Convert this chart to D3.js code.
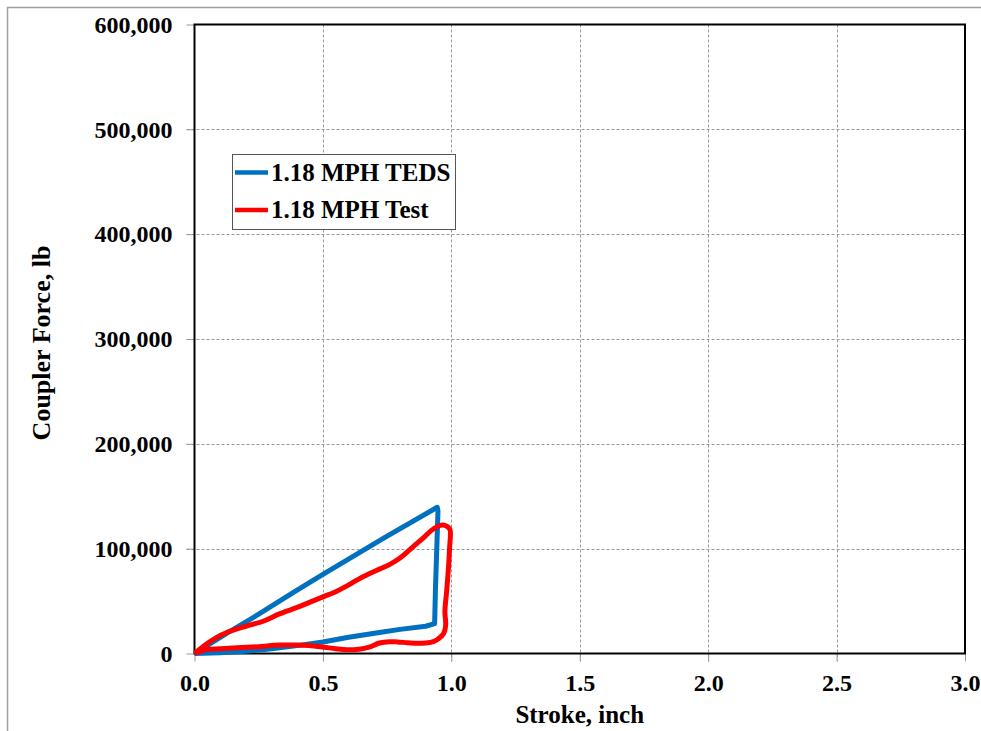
<!DOCTYPE html>
<html>
<head>
<meta charset="utf-8">
<script src="https://cdn.jsdelivr.net/npm/d3@7"></script>
<style>
  html, body { margin: 0; padding: 0; background: #fff; }
  svg { display: block; }
  text { font-family: "Liberation Serif", "Times New Roman", serif; font-weight: bold; fill: #000; }
</style>
</head>
<body>
<svg id="chart" width="981" height="731"></svg>
<script>
// ---- data ----
const xTicks = [0, 0.5, 1.0, 1.5, 2.0, 2.5, 3.0];
const yTicks = [0, 100000, 200000, 300000, 400000, 500000, 600000];
const seriesNames = ["1.18 MPH TEDS", "1.18 MPH Test"];
const seriesColors = ["#0070C0", "#FF0000"];

// stroke (inch), force (lb) — TEDS loop
const tedsStroke = [0, 0.13, 0.25, 0.39, 0.5, 0.74, 0.945, 0.948, 0.942, 0.938, 0.935, 0.9, 0.8, 0.72, 0.6, 0.5, 0.4, 0.3, 0.2, 0.1, 0];
const tedsForce  = [0, 20000, 37500, 59000, 75500, 110500, 139500, 136000, 90000, 60000, 28500, 26000, 23000, 20000, 15500, 11000, 7500, 4500, 2200, 700, 0];

// Test loop
const testStroke = [0, 0.035, 0.08, 0.13, 0.2, 0.27, 0.333, 0.4, 0.45, 0.5, 0.546, 0.59, 0.632, 0.68, 0.72, 0.761, 0.8, 0.852, 0.89, 0.92, 0.945, 0.965, 0.985, 0.995, 0.993, 0.99, 0.982, 0.975, 0.978, 0.97, 0.95, 0.93, 0.9, 0.87, 0.83, 0.79, 0.76, 0.72, 0.68, 0.64, 0.593, 0.55, 0.49, 0.4, 0.33, 0.25, 0.2, 0.1, 0.05, 0.01, 0];
const testForce  = [0, 7000, 14500, 20500, 26000, 31000, 38000, 44000, 49000, 54000, 58500, 64000, 70000, 76000, 80500, 85000, 91000, 102000, 110000, 117000, 121000, 122500, 121000, 118000, 100000, 86000, 60000, 40000, 27000, 19000, 14000, 11300, 10000, 9700, 10300, 11000, 11300, 10000, 6000, 4000, 3500, 4500, 6500, 8000, 8000, 6500, 6000, 4500, 4000, 1000, 0];

// ---- layout ----
const svg = d3.select("#chart");
const L = 194.5, R = 965, T = 24.5, B = 653.5;
const x = d3.scaleLinear().domain([0, 3]).range([L, R]);
const y = d3.scaleLinear().domain([0, 600000]).range([B, T]);

// outer frame
svg.append("rect").attr("x", 7.5).attr("y", 7.5).attr("width", 1000).attr("height", 1000)
  .attr("fill", "none").attr("stroke", "#a0a0a0").attr("stroke-width", 1.5);

// gridlines
const grid = svg.append("g");
grid.selectAll(".gx").data(xTicks.slice(1, -1)).join("line")
  .attr("x1", d => Math.round(x(d)) + 0.5).attr("x2", d => Math.round(x(d)) + 0.5)
  .attr("y1", T).attr("y2", B + 8)
  .attr("stroke", "#9a9a9a").attr("stroke-width", 1).attr("stroke-dasharray", "3,2");
grid.selectAll(".gy").data(yTicks.slice(1, -1)).join("line")
  .attr("y1", d => Math.round(y(d)) + 0.5).attr("y2", d => Math.round(y(d)) + 0.5)
  .attr("x1", L - 8).attr("x2", R)
  .attr("stroke", "#9a9a9a").attr("stroke-width", 1).attr("stroke-dasharray", "3,2");

// axes
const fmt = d3.format(",");
const xAxis = d3.axisBottom(x).tickValues(xTicks).tickFormat(d3.format(".1f")).tickSize(8).tickPadding(12);
const yAxis = d3.axisLeft(y).tickValues(yTicks).tickFormat(fmt).tickSize(8).tickPadding(14);
const gx = svg.append("g").attr("transform", `translate(0,${B})`).call(xAxis);
const gy = svg.append("g").attr("transform", `translate(${L},0)`).call(yAxis);
[gx, gy].forEach(g => {
  g.select(".domain").remove();
  g.selectAll(".tick line").attr("stroke", "#9a9a9a");
  g.selectAll(".tick text").style("font-family", '"Liberation Serif", serif')
    .style("font-weight", "bold").style("font-size", "24px").attr("fill", "#000");
});

// plot frame
svg.append("rect").attr("x", L).attr("y", T).attr("width", R - L).attr("height", B - T)
  .attr("fill", "none").attr("stroke", "#000").attr("stroke-width", 2);

// series
const line = d3.line().x(d => x(d[0])).y(d => y(d[1]));
const tedsData = tedsStroke.map((s, i) => [s, tedsForce[i]]);
const testData = testStroke.map((s, i) => [s, testForce[i]]);
svg.append("path").attr("d", line.curve(d3.curveLinear)(tedsData))
  .attr("fill", "none").attr("stroke", seriesColors[0]).attr("stroke-width", 5)
  .attr("stroke-linejoin", "round");
svg.append("path").attr("d", line.curve(d3.curveCatmullRom)(testData))
  .attr("fill", "none").attr("stroke", seriesColors[1]).attr("stroke-width", 5)
  .attr("stroke-linejoin", "round");

// axis titles
svg.append("text").attr("x", (L + R) / 2).attr("y", 723).attr("text-anchor", "middle")
  .style("font-size", "25px").text("Stroke, inch");
svg.append("text").attr("transform", `translate(50,${(T + B) / 2 + 4}) rotate(-90)`).attr("text-anchor", "middle")
  .style("font-size", "26px").text("Coupler Force, lb");

// legend
const lg = svg.append("g");
lg.append("rect").attr("x", 232.5).attr("y", 154.5).attr("width", 223).attr("height", 75)
  .attr("fill", "#fff").attr("stroke", "#555").attr("stroke-width", 1);
seriesNames.forEach((n, i) => {
  const yy = 172.5 + i * 37.5;
  lg.append("line").attr("x1", 235).attr("x2", 268).attr("y1", yy).attr("y2", yy)
    .attr("stroke", seriesColors[i]).attr("stroke-width", 4.5);
  lg.append("text").attr("x", 271).attr("y", yy + 8).style("font-size", "25px").text(n);
});
</script>
</body>
</html>
